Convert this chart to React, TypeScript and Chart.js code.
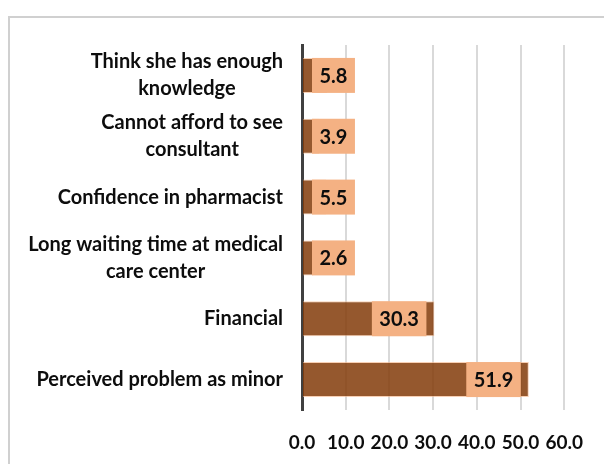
import React, { useEffect, useRef } from "react";
import { Chart, registerables } from "chart.js";

Chart.register(...registerables);

const categories: string[][] = [
  ["Think she has enough", "knowledge"],
  ["Cannot afford to see", "consultant"],
  ["Confidence in pharmacist"],
  ["Long waiting time at medical", "care center"],
  ["Financial"],
  ["Perceived problem as minor"],
];
const values: number[] = [5.8, 3.9, 5.5, 2.6, 30.3, 51.9];
const xMin = 0;
const xMax = 60;
const xStep = 10;

const FONT = "Lato, 'Open Sans', sans-serif";

const categoryLabelPlugin = {
  id: "categoryLabels",
  afterDraw(chart: any) {
    const ctx = chart.ctx;
    const yScale = chart.scales.y;
    const right = chart.chartArea.left - 19;
    ctx.save();
    ctx.font = `bold 20px ${FONT}`;
    ctx.fillStyle = "#0d0d0d";
    ctx.textBaseline = "middle";
    ctx.textAlign = "center";
    const lh = 27;
    (chart.data.labels as any[]).forEach((lab, i) => {
      const lines: string[] = Array.isArray(lab) ? lab : [String(lab)];
      const w = Math.max(...lines.map((l) => ctx.measureText(l).width));
      const cx = right - w / 2;
      const cy = yScale.getPixelForValue(i);
      lines.forEach((l, j) => {
        ctx.fillText(l, cx, cy + (j - (lines.length - 1) / 2) * lh);
      });
    });
    ctx.restore();
  },
};

const valueLabelPlugin = {
  id: "valueLabels",
  afterDatasetsDraw(chart: any) {
    const ctx = chart.ctx;
    const meta = chart.getDatasetMeta(0);
    const ds = chart.data.datasets[0];
    ctx.save();
    ctx.font = `bold 20px ${FONT}`;
    ctx.textBaseline = "middle";
    ctx.textAlign = "center";
    meta.data.forEach((bar: any, i: number) => {
      const { x, y, base, height } = bar.getProps(["x", "y", "base", "height"], true);
      const text = Number(ds.data[i]).toFixed(1);
      const tw = ctx.measureText(text).width;
      const w = tw + 15;
      const left = Math.max(base + 9, x - 8 - w);
      const top = y - height / 2;
      ctx.fillStyle = "#F4B183";
      ctx.fillRect(left, top, w, height);
      ctx.fillStyle = "#0d0d0d";
      ctx.fillText(text, left + w / 2, y + 1);
    });
    ctx.restore();
  },
};

export default function App() {
  const ref = useRef<HTMLCanvasElement | null>(null);

  useEffect(() => {
    if (!ref.current) return;
    const chart = new Chart(ref.current, {
      type: "bar",
      data: {
        labels: categories,
        datasets: [
          {
            data: values,
            backgroundColor: "rgba(132,60,12,0.86)",
            borderColor: "rgba(244,177,131,0.6)",
            borderWidth: 1,
            barPercentage: 0.575,
            categoryPercentage: 1,
          },
        ],
      },
      options: {
        indexAxis: "y",
        animation: false,
        responsive: true,
        maintainAspectRatio: false,
        layout: { padding: { left: 302, right: 37, top: 45, bottom: 0 } },
        plugins: {
          legend: { display: false },
          tooltip: { enabled: false },
          title: { display: false },
        },
        scales: {
          x: {
            min: xMin,
            max: xMax,
            grid: { color: "#d9d9d9", lineWidth: 2, drawTicks: false },
            border: { display: false },
            afterFit: (scale: any) => {
              scale.height = 54;
            },
            ticks: {
              stepSize: xStep,
              padding: 21,
              color: "#0d0d0d",
              font: { family: FONT, size: 19, weight: "bold" },
              callback: (v: any) => Number(v).toFixed(1),
            },
          },
          y: {
            grid: { display: false, drawTicks: false },
            border: { display: true, color: "#404040", width: 3 },
            ticks: { display: false },
          },
        },
      },
      plugins: [categoryLabelPlugin, valueLabelPlugin],
    });
    return () => chart.destroy();
  }, []);

  return (
    <div style={{ position: "fixed", left: 0, top: 0, width: 604, height: 464, background: "#fff", overflow: "hidden" }}>
      <div
        style={{
          position: "absolute",
          left: 8,
          top: 16,
          width: 640,
          height: 500,
          border: "2px solid #d0d0d0",
          boxSizing: "border-box",
        }}
      />
      <div style={{ position: "absolute", left: 0, top: 0, width: 604, height: 464 }}>
        <canvas ref={ref} />
      </div>
    </div>
  );
}
